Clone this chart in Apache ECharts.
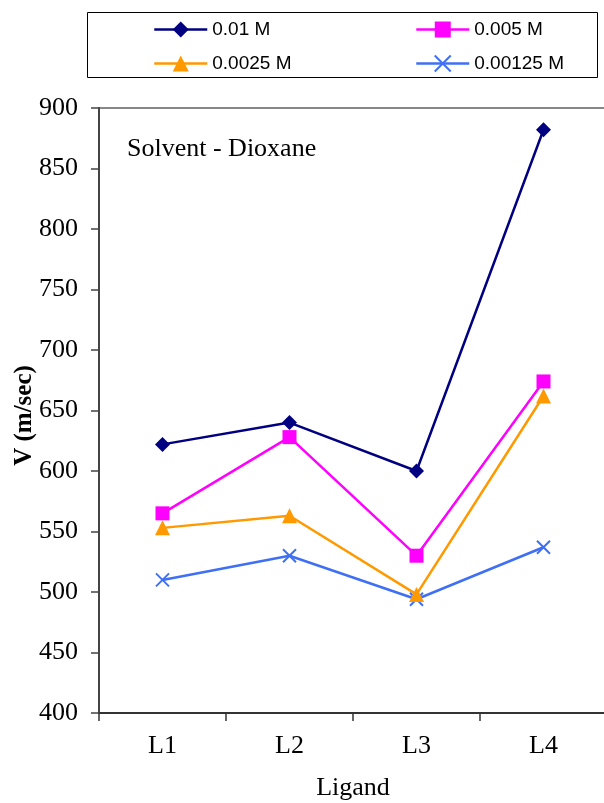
<!DOCTYPE html>
<html><head><meta charset="utf-8">
<script src="https://cdn.jsdelivr.net/npm/echarts@6/dist/echarts.min.js"></script>
<style>html,body{margin:0;padding:0;background:#fff}#c{width:604px;height:803px}</style>
</head><body><div id="c"></div>
<script>
const categories = ['L1','L2','L3','L4'];
const s001 = [622, 640, 600, 882];
const s0005 = [565, 628, 530, 674];
const s00025 = [553, 563, 498, 662];
const s000125 = [510, 530, 494, 537];
const seriesNames = ['0.01 M','0.005 M','0.0025 M','0.00125 M'];
const yTicks = [400,450,500,550,600,650,700,750,800,850,900];

const chart = echarts.init(document.getElementById('c'));
const xPath = 'path://M0,0L10,10M10,0L0,10';
const colors = ['#000080','#FF00FF','#FF9900','#3F6FF5'];
const symbols = ['diamond','rect','triangle',xPath];
const sizes = [15,14,15,13];
const datas = [s001,s0005,s00025,s000125];

const series = datas.map((d,i)=>({
  name: seriesNames[i], type:'line', data:d,
  symbol: symbols[i], symbolSize: sizes[i],
  lineStyle:{color:colors[i], width:2.5},
  itemStyle: i===3 ? {color:'rgba(0,0,0,0)', borderColor:colors[i], borderWidth:2} : {color:colors[i]},
  z: 10-i
}));

const legendPos = [[148,15],[410,15],[148,49],[410,49]];
const legends = seriesNames.map((n,i)=>({
  data:[n], left:legendPos[i][0], top:legendPos[i][1], itemWidth:53, itemHeight:20, itemGap:0,
  lineStyle:{width:2.5},
  textStyle:{fontFamily:'Liberation Sans, Arial', fontSize:19, color:'#000', padding:[0,0,0,0]}
}));

chart.setOption({
  animation:false,
  backgroundColor:'#fff',
  legend: legends,
  grid:{left:99, top:108, width:508, height:605, show:true, borderColor:'#888', borderWidth:2,
    backgroundColor:'transparent', outerBoundsMode:'none', containLabel:false},
  graphic:[
    {type:'rect', shape:{x:87.5, y:12.5, width:510, height:65}, style:{fill:'none', stroke:'#000', lineWidth:1}},
    {type:'text', left:127, top:136, style:{text:'Solvent - Dioxane', font:'26px "Liberation Serif", "Times New Roman", serif', fill:'#000'}}
  ],
  xAxis:{type:'category', data:categories, boundaryGap:true,
    name:'Ligand', nameLocation:'middle', nameGap:62,
    nameTextStyle:{fontFamily:'Liberation Serif', fontSize:26, color:'#000'},
    axisLine:{lineStyle:{color:'#333', width:2}},
    axisTick:{show:true, length:8, lineStyle:{color:'#333', width:1.5}},
    axisLabel:{fontFamily:'Liberation Serif', fontSize:26, color:'#000', margin:20}
  },
  yAxis:{type:'value', min:400, max:900, interval:50,
    name:'V (m/sec)', nameLocation:'middle', nameGap:62, nameRotate:90, nameMoveOverlap:false,
    nameTextStyle:{fontFamily:'Liberation Serif', fontSize:25, fontWeight:'bold', color:'#000', padding:[0,0,0,-10]},
    axisLine:{show:true, lineStyle:{color:'#444', width:2}},
    axisTick:{show:true, length:8, lineStyle:{color:'#444', width:1.5}},
    axisLabel:{fontFamily:'Liberation Serif', fontSize:26, color:'#000', margin:21,
      formatter:v=>yTicks.includes(v)?String(v):''},
    splitLine:{show:false}
  },
  series
});
</script></body></html>
